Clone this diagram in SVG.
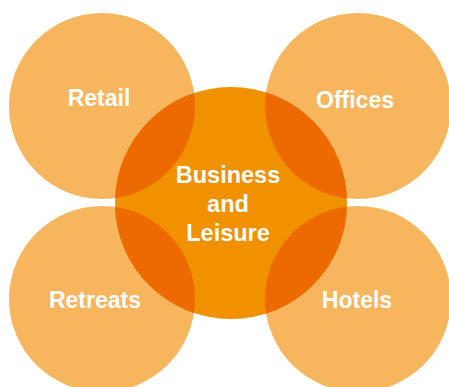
<svg xmlns="http://www.w3.org/2000/svg" width="449" height="387" viewBox="0 0 449 387">
<style>
.outer{fill:#F7B55E}
.center{fill:#F29100}
.ov{fill:#EC6A00}
.lbl{font-family:"Liberation Sans",Arial,sans-serif;font-weight:bold;font-size:23px;fill:#FFFFFF;text-anchor:middle}
</style>
<defs>
<clipPath id="cc"><circle cx="231" cy="203" r="116"/></clipPath>
</defs>
<rect width="449" height="387" fill="#FFFFFF"/>
<g id="retail"><circle class="outer" cx="102" cy="106" r="93"/></g>
<g id="offices"><circle class="outer" cx="358" cy="106" r="93"/></g>
<g id="retreats"><circle class="outer" cx="102" cy="299" r="93"/></g>
<g id="hotels"><circle class="outer" cx="358" cy="299" r="93"/></g>
<g id="business-leisure"><circle class="center" cx="231" cy="203" r="116"/></g>
<g id="overlaps" clip-path="url(#cc)">
<circle class="ov" cx="102" cy="106" r="93"/>
<circle class="ov" cx="358" cy="106" r="93"/>
<circle class="ov" cx="102" cy="299" r="93"/>
<circle class="ov" cx="358" cy="299" r="93"/>
</g>
<g id="labels">
<text class="lbl" x="99" y="106">Retail</text>
<text class="lbl" x="355" y="108">Offices</text>
<text class="lbl" x="95" y="307.5">Retreats</text>
<text class="lbl" x="357" y="307.5">Hotels</text>
<text class="lbl" x="228" y="182.5" style="font-size:23.5px">Business</text>
<text class="lbl" x="228" y="211.5" style="font-size:23.5px">and</text>
<text class="lbl" x="228" y="240.5" style="font-size:23.5px">Leisure</text>
</g>
</svg>
